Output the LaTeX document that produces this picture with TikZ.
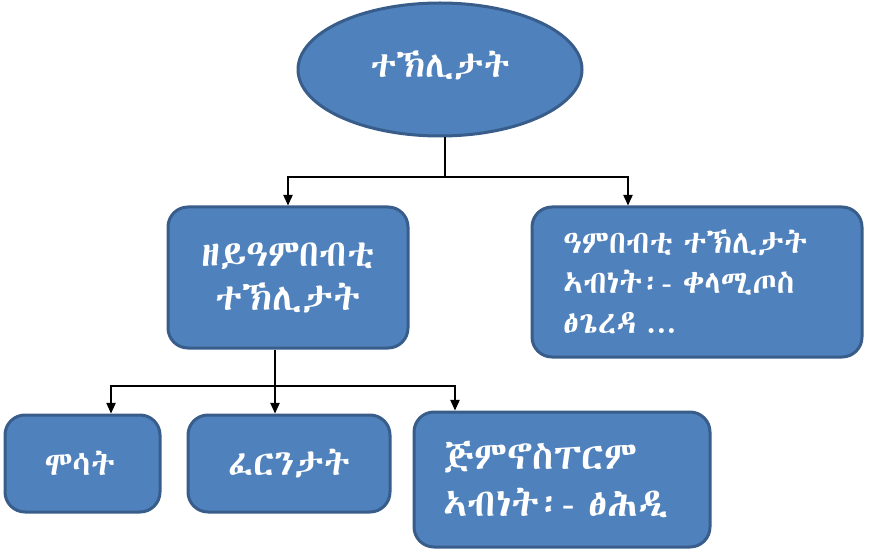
\documentclass[tikz,border=0pt]{standalone}
\usepackage{fontspec}
\IfFontExistsTF{Abyssinica SIL}{\newfontfamily\ethfont{Abyssinica SIL}}{%
  \IfFontExistsTF{Noto Sans Ethiopic}{\newfontfamily\ethfont{Noto Sans Ethiopic}}{%
    \newfontfamily\ethfont{FreeSerif}}}
\usetikzlibrary{shapes.geometric,arrows.meta}

\definecolor{boxfill}{RGB}{79,129,189}
\definecolor{boxline}{RGB}{56,93,138}

\tikzset{every picture/.style={line width=0.75pt}}
\tikzset{
  blockbox/.style={draw=boxline,fill=boxfill,line width=2.25pt,rounded corners=15pt,
    text=white,inner sep=0pt,font=\ethfont\fontsize{25}{33}\selectfont},
  topoval/.style={ellipse,draw=boxline,fill=boxfill,line width=2.25pt,
    text=white,inner sep=0pt,font=\ethfont\fontsize{27}{33}\selectfont},
  link/.style={line width=1pt,-{Triangle[width=7pt,length=8pt]}}
}

\begin{document}
\begin{tikzpicture}[x=0.75pt,y=0.75pt,yscale=-1,xscale=1]
	\useasboundingbox (0,0) rectangle (870,552);
	
	%Shape: Ellipse [id:top]
	\node [topoval,minimum width=213pt,minimum height=99.75pt] (plants) at (440,69.5) {\raisebox{8pt}{ተኽሊታት}};
	
	%Shape: Rounded Rect [id:zy]
	\node [blockbox,minimum width=180pt,minimum height=105.75pt,align=center,font=\ethfont\fontsize{28}{33}\selectfont] (nonflower) at (288,277.5) {ዘይዓምበብቲ\\ተኽሊታት};
	%Shape: Rounded Rect [id:amb]
	\node [blockbox,minimum width=247.5pt,minimum height=112.5pt,text width=201pt,align=left,font=\ethfont\fontsize{24}{30}\selectfont] (flower) at (697,282) {ዓምበብቲ ተኽሊታት\\ኣብነት፡- ቀላሚጦስ\\ፅጌረዳ ...};
	
	%Shape: Rounded Rect [id:moss]
	\node [blockbox,minimum width=116.25pt,minimum height=72.75pt] (moss) at (82.5,463.5) {\hspace*{-4pt}ሞሳት};
	%Shape: Rounded Rect [id:fern]
	\node [blockbox,minimum width=151.5pt,minimum height=72.75pt,font=\ethfont\fontsize{27}{33}\selectfont] (fern) at (289,463.5) {ፈርንታት};
	%Shape: Rounded Rect [id:gym]
	\node [blockbox,minimum width=222pt,minimum height=101.25pt,text width=178pt,align=left,font=\ethfont\fontsize{29}{35}\selectfont] (gymno) at (562,479.5) {ጅምኖስፐርም\\ኣብነት፡-  ፅሕዲ};
	
	%Straight Lines [id:j1]
	\coordinate (j1) at (445,177);
	\draw [line width=1pt] (plants.south -| j1) -- (j1) ;
	\draw [link] (j1) -| (nonflower.north) ;
	\draw [link] (j1) -| ([xshift=-51.75pt]flower.north) ;
	
	%Straight Lines [id:j2]
	\coordinate (j2) at (275,386);
	\draw [line width=1pt] (nonflower.south -| j2) -- (j2) ;
	\draw [link] (j2) -| ([xshift=21.4pt]moss.north) ;
	\draw [link] (j2) -| ([xshift=-10.5pt]fern.north) ;
	\draw [link] (j2) -| ([xshift=-80.25pt]gymno.north) ;
	
\end{tikzpicture}
\end{document}
